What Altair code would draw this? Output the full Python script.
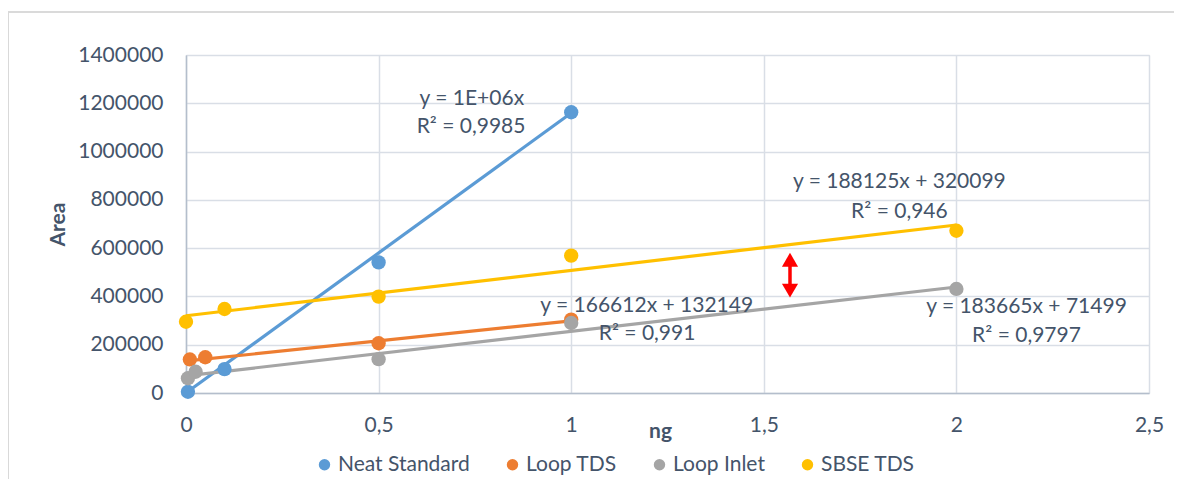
import altair as alt
import pandas as pd

# ---- data ----
series_names = ["Neat Standard", "Loop TDS", "Loop Inlet", "SBSE TDS"]
series_colors = ["#5B9BD5", "#ED7D31", "#A5A5A5", "#FFC000"]

neat_x = [0.005, 0.1, 0.5, 1]
neat_y = [5000, 99000, 541000, 1163000]
loop_tds_x = [0.01, 0.05, 0.5, 1]
loop_tds_y = [139000, 148000, 206000, 304000]
loop_inlet_x = [0.005, 0.025, 0.5, 1, 2]
loop_inlet_y = [61000, 88000, 140000, 290000, 431000]
sbse_x = [0, 0.1, 0.5, 1, 2]
sbse_y = [295000, 348000, 399000, 569000, 672000]

# trend line end points (as drawn)
trend_x0 = [0.005, 0.01, 0.005, 0]
trend_y0 = [6000, 134000, 72000, 320000]
trend_x1 = [1, 1, 2, 2]
trend_y1 = [1160000, 299000, 439000, 696000]

# trendline labels
ann_text = ["y = 1E+06x", "R\u00b2 = 0,9985",
            "y = 166612x + 132149", "R\u00b2 = 0,991",
            "y = 188125x + 320099", "R\u00b2 = 0,946",
            "y = 183665x + 71499", "R\u00b2 = 0,9797"]
ann_x = [0.742, 0.740, 1.196, 1.197, 1.852, 1.852, 2.182, 2.182]
ann_y = [1218000, 1103000, 362000, 245000, 872000, 748000, 355000, 235000]

# red double arrow
arrow_x = [1.568]
arrow_y0 = [424000]
arrow_y1 = [552000]

x_ticks = [0, 0.5, 1, 1.5, 2, 2.5]
y_ticks = [0, 200000, 400000, 600000, 800000, 1000000, 1200000, 1400000]

# ---- tables ----
pts = pd.concat([
    pd.DataFrame({"series": series_names[0], "x": neat_x, "y": neat_y}),
    pd.DataFrame({"series": series_names[1], "x": loop_tds_x, "y": loop_tds_y}),
    pd.DataFrame({"series": series_names[2], "x": loop_inlet_x, "y": loop_inlet_y}),
    pd.DataFrame({"series": series_names[3], "x": sbse_x, "y": sbse_y}),
], ignore_index=True)

trend_rows = []
for i, s in enumerate(series_names):
    trend_rows.append({"series": s, "x": trend_x0[i], "y": trend_y0[i], "o": 0})
    trend_rows.append({"series": s, "x": trend_x1[i], "y": trend_y1[i], "o": 1})
trend = pd.DataFrame(trend_rows)

ann = pd.DataFrame({"text": ann_text, "x": ann_x, "y": ann_y})
arrow = pd.DataFrame({"x": arrow_x, "y0": arrow_y0, "y1": arrow_y1})

FONT = "Lato"
TXT = "#44546A"
GRID = "#D9DEE6"
DOMAIN = "#B4BECC"

xscale = alt.Scale(domain=[0, 2.5], nice=False, zero=False)
yscale = alt.Scale(domain=[0, 1400000], nice=False)
cscale = alt.Scale(domain=series_names, range=series_colors)

xaxis = alt.Axis(values=x_ticks, title="ng", grid=True, gridColor=GRID, gridWidth=1.5,
                 domainColor=DOMAIN, domainWidth=1.5, ticks=False, labelFlush=False,
                 labelExpr="replace(toString(datum.value), '.', ',')",
                 labelFont=FONT, labelFontSize=21, labelColor=TXT, labelPadding=32,
                 labelBaseline="middle",
                 titleFont=FONT, titleFontSize=21, titleFontWeight="bold", titleColor=TXT,
                 titleX=474, titleY=38, titleBaseline="middle", titleAlign="center")
yaxis = alt.Axis(values=y_ticks, title="Area", grid=True, gridColor=GRID, gridWidth=1.5,
                 domainColor=DOMAIN, domainWidth=1.5, ticks=False, format="d",
                 labelFont=FONT, labelFontSize=21, labelColor=TXT, labelPadding=23,
                 titleFont=FONT, titleFontSize=21, titleFontWeight="bold", titleColor=TXT,
                 titleX=-128, titleY=169, titleAngle=270, titleBaseline="middle",
                 titleAlign="center")

lines = alt.Chart(trend).mark_line(strokeWidth=3.2).encode(
    x=alt.X("x:Q", scale=xscale, axis=xaxis),
    y=alt.Y("y:Q", scale=yscale, axis=yaxis),
    color=alt.Color("series:N", scale=cscale, legend=None),
    detail="series:N",
    order="o:Q",
)

points = alt.Chart(pts).mark_circle(size=205, opacity=1).encode(
    x=alt.X("x:Q", scale=xscale),
    y=alt.Y("y:Q", scale=yscale),
    color=alt.Color("series:N", scale=cscale,
                    legend=alt.Legend(title=None, orient="none", direction="horizontal",
                                      legendX=128, legendY=399, symbolType="circle",
                                      symbolSize=130, labelFont=FONT, labelFontSize=21,
                                      labelColor=TXT, columnPadding=32, labelOffset=3,
                                      symbolStrokeWidth=0)),
)

labels = alt.Chart(ann).mark_text(font=FONT, fontSize=21, color=TXT,
                                  align="center", baseline="middle").encode(
    x=alt.X("x:Q", scale=xscale),
    y=alt.Y("y:Q", scale=yscale),
    text="text:N",
)

shaft = alt.Chart(arrow).mark_rule(color="#FF0000", strokeWidth=3.5).encode(
    x=alt.X("x:Q", scale=xscale),
    y=alt.Y("y0:Q", scale=yscale),
    y2="y1:Q",
)
head_up = alt.Chart(arrow).mark_point(shape="triangle-up", filled=True, color="#FF0000",
                                      size=260, opacity=1).encode(
    x=alt.X("x:Q", scale=xscale),
    y=alt.Y("y1:Q", scale=yscale),
)
head_down = alt.Chart(arrow).mark_point(shape="triangle-down", filled=True, color="#FF0000",
                                        size=260, opacity=1).encode(
    x=alt.X("x:Q", scale=xscale),
    y=alt.Y("y0:Q", scale=yscale),
)

border_top = alt.Chart(ann).mark_rule(color="#D9D9D9", strokeWidth=1.2).encode(
    x=alt.value(-178), x2=alt.value(1000), y=alt.value(-43))
border_left = alt.Chart(ann).mark_rule(color="#D9D9D9", strokeWidth=1.2).encode(
    x=alt.value(-178), y=alt.value(-43), y2=alt.value(440))

chart = alt.layer(lines, points, labels, shaft, head_up, head_down,
                  border_top, border_left).resolve_legend(color="independent").properties(
    width=963, height=338,
    autosize=alt.AutoSizeParams(type="none"),
    padding={"left": 178, "top": 47, "right": 25, "bottom": 86},
).configure_view(stroke=None).configure(background="white")

chart.save("out.html", embed_options={"renderer": "svg", "actions": False})
